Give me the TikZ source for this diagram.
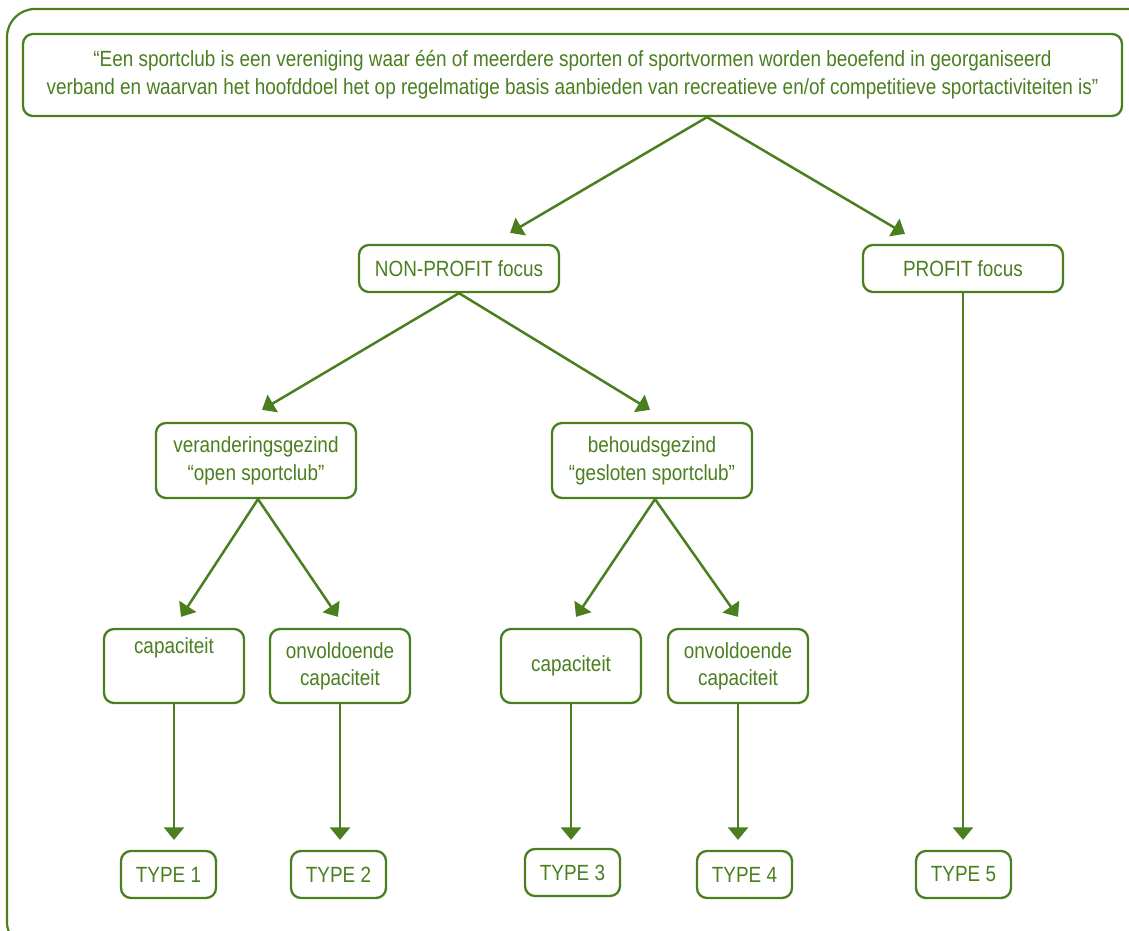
\documentclass[tikz,border=0pt]{standalone}
\usepackage{fontspec}
\setmainfont{Liberation Sans}[FakeStretch=0.86]
\usetikzlibrary{arrows.meta,calc}
\definecolor{grn}{HTML}{4A7E1E}
\tikzset{
  box/.style={draw=grn, line width=2.3pt, rounded corners=10pt, text=grn, align=center,
    font=\fontsize{22}{28}\selectfont, inner sep=0pt},
  conn/.style={draw=grn, line width=2.5pt, -{Triangle[length=12.5pt,width=20pt]}},
  frame/.style={draw=grn, line width=2.2pt, rounded corners=28pt}
}
\begin{document}
\begin{tikzpicture}[x=1pt,y=1pt]
\useasboundingbox (0,0) rectangle (1129,-931);
\clip (0,0) rectangle (1129,-931);
\draw[frame] (7,-9) rectangle (1170,-950);

\node[box, minimum width=1099pt, minimum height=82pt] (top) at (572.5,-75)
  {“Een sportclub is een vereniging waar één of meerdere sporten of sportvormen worden beoefend in georganiseerd\\
   verband en waarvan het hoofddoel het op regelmatige basis aanbieden van recreatieve en/of competitieve sportactiviteiten is”};

\node[box, minimum width=200pt, minimum height=47pt] (np) at (459,-268.5) {NON-PROFIT focus};
\node[box, minimum width=200pt, minimum height=47pt] (pf) at (963,-268.5) {PROFIT focus};

\node[box, minimum width=200pt, minimum height=75pt] (ver) at (256,-460.5) {veranderingsgezind\\“open sportclub”};
\node[box, minimum width=200pt, minimum height=75pt] (beh) at (652,-460.5) {behoudsgezind\\“gesloten sportclub”};

\node[box, minimum width=140pt, minimum height=74pt, text height=10pt, text depth=36pt] (cap1) at (174,-666) {capaciteit};
\node[box, minimum width=140pt, minimum height=74pt, font=\fontsize{22}{27}\selectfont] (onv1) at (340,-666) {onvoldoende\\capaciteit};
\node[box, minimum width=140pt, minimum height=74pt] (cap2) at (571,-666) {capaciteit};
\node[box, minimum width=140pt, minimum height=74pt, font=\fontsize{22}{27}\selectfont] (onv2) at (738,-666) {onvoldoende\\capaciteit};

\node[box, minimum width=95pt, minimum height=47pt] (t1) at (168.5,-874.5) {TYPE 1};
\node[box, minimum width=95pt, minimum height=47pt] (t2) at (338.5,-874.5) {TYPE 2};
\node[box, minimum width=95pt, minimum height=47pt] (t3) at (572.5,-872.5) {TYPE 3};
\node[box, minimum width=95pt, minimum height=47pt] (t4) at (744.5,-874.5) {TYPE 4};
\node[box, minimum width=95pt, minimum height=47pt] (t5) at (963.5,-874.5) {TYPE 5};

\coordinate (topout) at ($(top.south)+(134.5,0)$);
\draw[conn] (topout) -- ($(np.north)+(51,11)$);
\draw[conn] (topout) -- ($(pf.north)+(-58,10)$);

\draw[conn] (np.south) -- ($(ver.north)+(6,12)$);
\draw[conn] (np.south) -- ($(beh.north)+(-2,12)$);

\draw[conn] ($(ver.south)+(2,0)$) -- ($(cap1.north)+(7,11)$);
\draw[conn] ($(ver.south)+(2,0)$) -- ($(onv1.north)+(-2,11)$);
\draw[conn] ($(beh.south)+(3,0)$) -- ($(cap2.north)+(5,11)$);
\draw[conn] ($(beh.south)+(3,0)$) -- ($(onv2.north)+(0,11)$);

\draw[conn] (cap1.south) -- ($(cap1.south |- t1.north)+(0,10)$);
\draw[conn] (onv1.south) -- ($(onv1.south |- t2.north)+(0,10)$);
\draw[conn] (cap2.south) -- ($(cap2.south |- t3.north)+(0,8)$);
\draw[conn] (onv2.south) -- ($(onv2.south |- t4.north)+(0,10)$);
\draw[conn] (pf.south) -- ($(pf.south |- t5.north)+(0,10)$);
\end{tikzpicture}
\end{document}
